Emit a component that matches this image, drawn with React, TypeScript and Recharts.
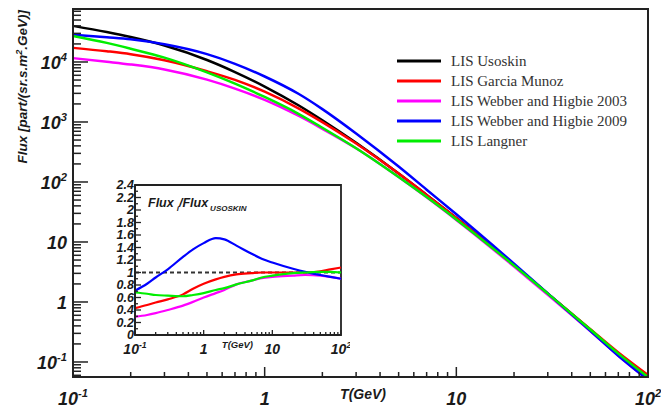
import React from "react";
import {
  LineChart,
  Line,
  XAxis,
  YAxis,
  ReferenceArea,
  ReferenceLine,
  Legend,
} from "recharts";

// kinetic energy (GeV), shared by every curve
const ENERGY = [0.1, 0.15, 0.2, 0.3, 0.5, 0.7, 1, 1.5, 2, 3, 5, 7, 10, 20, 30, 50, 70, 100];

// LIS flux, part/(sr.s.m2.GeV)
const FLUX_USOSKIN = [40000, 31500, 26000, 18800, 10800, 6800, 3900, 1900, 1070, 450, 139, 61, 25, 4.1, 1.38, 0.345, 0.137, 0.056];
const FLUX_GARCIA = [17200, 15100, 13500, 10700, 7020, 5030, 3200, 1690, 995, 437, 138, 61, 25, 4.1, 1.38, 0.352, 0.144, 0.0605];
const FLUX_WEBBER03 = [11600, 10100, 9100, 7520, 5080, 3600, 2340, 1270, 770, 365, 121, 55.5, 23.3, 3.9, 1.32, 0.328, 0.127, 0.0504];
const FLUX_WEBBER09 = [28400, 25800, 23900, 19700, 13500, 9320, 5730, 2950, 1640, 644, 181, 74.4, 29, 4.35, 1.39, 0.331, 0.127, 0.0504];
const FLUX_LANGNER = [27200, 20800, 16600, 11800, 6700, 4350, 2610, 1370, 803, 365, 121, 56.1, 23.8, 4.06, 1.38, 0.348, 0.138, 0.056];

// inset: Flux_i / Flux_Usoskin
const RATIO_GARCIA = [0.43, 0.48, 0.52, 0.57, 0.65, 0.74, 0.82, 0.89, 0.93, 0.97, 0.99, 1.0, 1.0, 1.0, 1.0, 1.02, 1.05, 1.08];
const RATIO_WEBBER03 = [0.29, 0.32, 0.35, 0.4, 0.47, 0.53, 0.6, 0.67, 0.72, 0.81, 0.87, 0.91, 0.93, 0.95, 0.96, 0.95, 0.93, 0.9];
const RATIO_WEBBER09 = [0.71, 0.82, 0.92, 1.05, 1.25, 1.37, 1.47, 1.55, 1.53, 1.43, 1.3, 1.22, 1.16, 1.06, 1.01, 0.96, 0.93, 0.9];
const RATIO_LANGNER = [0.68, 0.66, 0.64, 0.63, 0.62, 0.64, 0.67, 0.72, 0.75, 0.81, 0.87, 0.92, 0.95, 0.99, 1.0, 1.01, 1.01, 1.0];

const SERIES = [
  { key: "usoskin", name: "LIS Usoskin", color: "#000000" },
  { key: "garcia", name: "LIS Garcia Munoz", color: "#ff0000" },
  { key: "webber03", name: "LIS Webber and Higbie 2003", color: "#ff00ff" },
  { key: "webber09", name: "LIS Webber and Higbie 2009", color: "#0000ff" },
  { key: "langner", name: "LIS Langner", color: "#00ee00" },
];

const INSET_SERIES = SERIES.slice(1);

// axis ranges / ticks
const X_DECADES = [0.1, 1, 10];
const Y_DECADES = [0.01, 0.1, 1, 10, 100, 1000, 10000];
const Y_MIN = 0.0562;
const Y_MAX = 76400;
const INSET_Y_TICKS = [0, 0.1, 0.2, 0.3, 0.4, 0.5, 0.6, 0.7, 0.8, 0.9, 1, 1.1, 1.2, 1.3, 1.4, 1.5, 1.6, 1.7, 1.8, 1.9, 2, 2.1, 2.2, 2.3, 2.4];

const X_TICKS = [...X_DECADES.flatMap((d) => [1, 2, 3, 4, 5, 6, 7, 8, 9].map((k) => +(k * d).toPrecision(3))), 100];
const Y_TICKS = Y_DECADES.flatMap((d) => [1, 2, 3, 4, 5, 6, 7, 8, 9].map((k) => +(k * d).toPrecision(3))).filter(
  (v) => v >= 0.06 && v <= 70000
);

const mainData = ENERGY.map((t, i) => ({
  t,
  usoskin: FLUX_USOSKIN[i],
  garcia: FLUX_GARCIA[i],
  webber03: FLUX_WEBBER03[i],
  webber09: FLUX_WEBBER09[i],
  langner: FLUX_LANGNER[i],
}));

const insetData = ENERGY.map((t, i) => ({
  t,
  garcia: RATIO_GARCIA[i],
  webber03: RATIO_WEBBER03[i],
  webber09: RATIO_WEBBER09[i],
  langner: RATIO_LANGNER[i],
}));

const AXIS = "#222";
const FONT = "'Liberation Sans', Arial, sans-serif";
const TXT = "#1a1a1a";

const isDecade = (v: number) => Math.abs(Math.log10(v) - Math.round(Math.log10(v))) < 1e-6;

// "10^n" style label, ROOT-like (1 and 10 written plainly)
function PowLabel({ x, y, v, size, anchor }: { x: number; y: number; v: number; size: number; anchor: "middle" | "end" }) {
  const e = Math.round(Math.log10(v));
  const common = {
    x,
    y,
    textAnchor: anchor,
    fontFamily: FONT,
    fontWeight: 700,
    fontStyle: "italic",
    fontSize: size,
    fill: TXT,
  } as const;
  if (e === 0 || e === 1) return <text {...common}>{e === 0 ? "1" : "10"}</text>;
  return (
    <text {...common}>
      10
      <tspan dy={-size * 0.42} fontSize={size * 0.62}>
        {e}
      </tspan>
    </text>
  );
}

const MainXTick = (p: any) => {
  const { x, y, payload } = p;
  const major = isDecade(payload.value);
  return (
    <g>
      <line x1={x} x2={x} y1={y} y2={y - (major ? 10 : 5)} stroke={AXIS} strokeWidth={1.5} />
      {major && <PowLabel x={x} y={y + 28} v={payload.value} size={18} anchor="middle" />}
    </g>
  );
};

const MainYTick = (p: any) => {
  const { x, y, payload } = p;
  const major = isDecade(payload.value);
  return (
    <g>
      <line x1={x} x2={x + (major ? 15 : 8)} y1={y} y2={y} stroke={AXIS} strokeWidth={1.5} />
      {major && <PowLabel x={x - 6} y={y + 7} v={payload.value} size={18} anchor="end" />}
    </g>
  );
};

const InsetXTick = (p: any) => {
  const { x, y, payload } = p;
  const major = isDecade(payload.value);
  return (
    <g>
      <line x1={x} x2={x} y1={y} y2={y - (major ? 5 : 3)} stroke={AXIS} strokeWidth={1.3} />
      {major && <PowLabel x={x} y={y + 19} v={payload.value} size={14} anchor="middle" />}
    </g>
  );
};

const InsetYTick = (p: any) => {
  const { x, y, payload } = p;
  const v = payload.value as number;
  const major = Math.round(v * 10) % 2 === 0;
  return (
    <g>
      <line x1={x} x2={x + (major ? 6 : 3)} y1={y} y2={y} stroke={AXIS} strokeWidth={1.3} />
      {major && (
        <text
          x={x - 1}
          y={y + 4}
          textAnchor="end"
          fontFamily={FONT}
          fontWeight={700}
          fontStyle="italic"
          fontSize={12.5}
          fill={TXT}
        >
          {String(+v.toFixed(1))}
        </text>
      )}
    </g>
  );
};

// legend follows the series order (not alphabetical)
const renderLegend = (props: any) => {
  const colors = new Map((props.payload || []).map((e: any) => [e.value, e.color]));
  return (
    <div>
      {SERIES.map((s) => (
        <div key={s.key} style={{ display: "flex", alignItems: "center", height: 20 }}>
          <svg width={44} height={4} style={{ display: "block" }}>
            <line x1={0} x2={44} y1={2} y2={2} stroke={(colors.get(s.name) as string) || s.color} strokeWidth={3} />
          </svg>
          <span
            style={{
              marginLeft: 10,
              fontFamily: "'Liberation Serif', 'Times New Roman', serif",
              fontSize: 15,
              color: "#333",
              whiteSpace: "nowrap",
            }}
          >
            {s.name}
          </span>
        </div>
      ))}
    </div>
  );
};

const titleStyle = {
  fontFamily: FONT,
  fontWeight: 700,
  fontStyle: "italic",
  fill: TXT,
} as const;

export default function App() {
  return (
    <div style={{ position: "fixed", left: 0, top: 0, width: 661, height: 411, background: "#fff" }}>
      <LineChart width={661} height={411} data={mainData} margin={{ top: 9, right: 13, bottom: 0, left: 0 }}>
        <XAxis
          dataKey="t"
          type="number"
          scale="log"
          domain={[0.1, 100]}
          ticks={X_TICKS}
          interval={0}
          height={34}
          tickSize={0}
          tickMargin={0}
          tickLine={false}
          axisLine={{ stroke: AXIS, strokeWidth: 2 }}
          tick={MainXTick}
          label={{
            content: () => (
              <text x={386} y={399} textAnchor="end" fontSize={14} {...titleStyle}>
                T(GeV)
              </text>
            ),
          }}
        />
        <YAxis
          type="number"
          scale="log"
          domain={[Y_MIN, Y_MAX]}
          allowDataOverflow
          ticks={Y_TICKS}
          interval={0}
          width={73}
          tickSize={0}
          tickMargin={0}
          tickLine={false}
          axisLine={{ stroke: AXIS, strokeWidth: 2 }}
          tick={MainYTick}
          label={{
            content: () => (
              <text transform="translate(27, 10) rotate(-90)" textAnchor="end" fontSize={13.5} {...titleStyle}>
                Flux [part/(sr.s.m
                <tspan dy={-5} fontSize={9}>
                  2
                </tspan>
                <tspan dy={5}>.GeV)]</tspan>
              </text>
            ),
          }}
        />
        <ReferenceArea x1={0.1} x2={100} y1={Y_MIN} y2={Y_MAX} fill="none" stroke={AXIS} strokeWidth={2} />
        {SERIES.map((s) => (
          <Line
            key={s.key}
            type="monotone"
            dataKey={s.key}
            name={s.name}
            stroke={s.color}
            strokeWidth={2.5}
            dot={false}
            isAnimationActive={false}
          />
        ))}
        <Legend
          layout="vertical"
          align="center"
          verticalAlign="middle"
          wrapperStyle={{ left: 397, top: 51, width: 260 }}
          content={renderLegend}
        />
      </LineChart>

      {/* ratio inset */}
      <div style={{ position: "absolute", left: 100, top: 175 }}>
        <LineChart width={250} height={185} data={insetData} margin={{ top: 10, right: 9, bottom: 0, left: 0 }}>
          <XAxis
            dataKey="t"
            type="number"
            scale="log"
            domain={[0.1, 100]}
            ticks={X_TICKS}
            interval={0}
            height={25}
            tickSize={0}
            tickMargin={0}
            tickLine={false}
            axisLine={{ stroke: AXIS, strokeWidth: 1.8 }}
            tick={InsetXTick}
            label={{
              content: () => (
                <text x={153} y={173} textAnchor="end" fontSize={9.5} {...titleStyle}>
                  T(GeV)
                </text>
              ),
            }}
          />
          <YAxis
            type="number"
            domain={[0, 2.4]}
            ticks={INSET_Y_TICKS}
            interval={0}
            width={35}
            tickSize={0}
            tickMargin={0}
            tickLine={false}
            axisLine={{ stroke: AXIS, strokeWidth: 1.8 }}
            tick={InsetYTick}
          />
          <ReferenceArea
            x1={0.1}
            x2={100}
            y1={0}
            y2={2.4}
            fill="none"
            stroke={AXIS}
            strokeWidth={1.8}
            label={{
              content: () => (
                <text x={48} y={32} fontSize={12.5} {...titleStyle}>
                  Flux
                  <tspan dx={3} dy={4} fontSize={8}>
                    i
                  </tspan>
                  <tspan dy={-4}>/Flux</tspan>
                  <tspan dx={2} dy={4} fontSize={8}>
                    USOSKIN
                  </tspan>
                </text>
              ),
            }}
          />
          <ReferenceLine y={1} stroke="#333" strokeWidth={2} strokeDasharray="4 3" />
          {INSET_SERIES.map((s) => (
            <Line
              key={s.key}
              type="monotone"
              dataKey={s.key}
              stroke={s.color}
              strokeWidth={2.2}
              dot={false}
              isAnimationActive={false}
            />
          ))}
        </LineChart>
      </div>
    </div>
  );
}
